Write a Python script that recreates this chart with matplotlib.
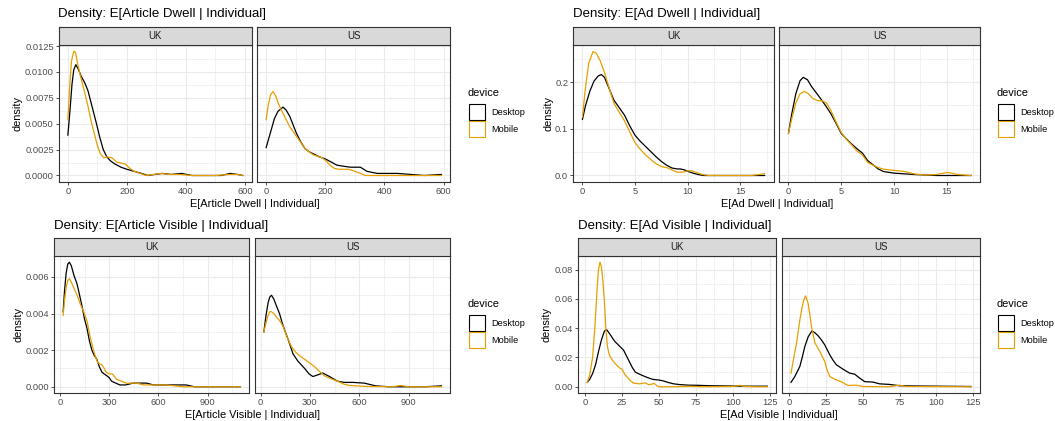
import matplotlib
matplotlib.use('Agg')
import matplotlib.pyplot as plt
from matplotlib.patches import Rectangle

plt.rcParams['font.family'] = ['Liberation Sans', 'DejaVu Sans']

W, H = 1055, 421
DESKTOP = '#000000'
MOBILE = '#E69F00'
GRID = '#EBEBEB'
BORDER = '#333333'
TICKTXT = '#4D4D4D'
STRIP = '#D9D9D9'

# density curves, (x, density) points per device and country
art_dwell_uk_desktop = [(0, 0.0039), (7, 0.0062), (14, 0.0088), (20, 0.0102), (27, 0.0107), (35, 0.0103),
                        (45, 0.0096), (58, 0.0089), (68, 0.0082), (78, 0.0071), (88, 0.0060), (97, 0.0050),
                        (108, 0.0037), (120, 0.0025), (132, 0.0018), (145, 0.0014), (160, 0.0011),
                        (180, 0.0008), (200, 0.0006), (225, 0.0004), (250, 0.0002), (270, 0.0000),
                        (295, 0.0001), (320, 0.0002), (350, 0.0001), (385, 0.0002), (420, 0.0000),
                        (480, 0.0000), (520, 0.0000), (550, 0.0002), (575, 0.0001), (593, 0.0000)]
art_dwell_uk_mobile = [(0, 0.0054), (6, 0.0085), (12, 0.0110), (20, 0.0120), (26, 0.0119), (33, 0.0108),
                       (41, 0.0098), (50, 0.0088), (58, 0.0079), (69, 0.0066), (80, 0.0051), (90, 0.0040),
                       (100, 0.0029), (110, 0.0021), (122, 0.0017), (135, 0.0018), (150, 0.0017),
                       (165, 0.0013), (180, 0.0012), (195, 0.0011), (210, 0.0007), (225, 0.0004),
                       (245, 0.0002), (265, 0.0000), (290, 0.0001), (315, 0.0002), (345, 0.0001),
                       (380, 0.0001), (420, 0.0000), (500, 0.0000), (550, 0.0001), (575, 0.0001), (593, 0.0000)]
art_dwell_us_desktop = [(0, 0.0027), (10, 0.0037), (20, 0.0047), (28, 0.0055), (40, 0.0062), (57, 0.0066),
                        (68, 0.0063), (80, 0.0057), (91, 0.0049), (102, 0.0041), (116, 0.0033), (131, 0.0026),
                        (145, 0.0023), (159, 0.0021), (180, 0.0018), (200, 0.0016), (220, 0.0013),
                        (239, 0.0010), (260, 0.0009), (285, 0.0008), (319, 0.0008), (341, 0.0004),
                        (376, 0.0002), (444, 0.0002), (490, 0.0001), (535, 0.0000), (593, 0.0001)]
art_dwell_us_mobile = [(0, 0.0054), (7, 0.0068), (15, 0.0078), (23, 0.0081), (32, 0.0077), (42, 0.0069),
                       (57, 0.0060), (80, 0.0047), (102, 0.0038), (117, 0.0032), (131, 0.0026),
                       (159, 0.0020), (190, 0.0017), (203, 0.0014), (216, 0.0010), (230, 0.0007),
                       (245, 0.0006), (279, 0.0006), (300, 0.0004), (319, 0.0002), (336, 0.0000),
                       (400, 0.0000), (500, 0.0000), (593, 0.0000)]

ad_dwell_uk_desktop = [(0, 0.120), (0.3, 0.150), (0.7, 0.180), (1.1, 0.202), (1.5, 0.213), (1.8, 0.216),
                       (2.1, 0.210), (2.5, 0.188), (3.0, 0.161), (3.5, 0.145), (4.0, 0.129), (4.5, 0.106),
                       (5.0, 0.086), (5.5, 0.073), (6.0, 0.062), (6.5, 0.051), (7.0, 0.040), (7.5, 0.030),
                       (8.0, 0.022), (8.5, 0.016), (9.0, 0.014), (9.3, 0.014), (9.7, 0.012), (10.0, 0.009),
                       (10.5, 0.005), (11.0, 0.002), (11.5, 0.000), (14.0, 0.000), (17.3, 0.000)]
ad_dwell_uk_mobile = [(0, 0.125), (0.3, 0.190), (0.6, 0.240), (1.0, 0.265), (1.3, 0.262), (1.7, 0.245),
                      (2.1, 0.220), (2.5, 0.190), (3.0, 0.154), (3.5, 0.135), (4.0, 0.117), (4.5, 0.093),
                      (5.0, 0.070), (5.5, 0.056), (6.0, 0.044), (6.5, 0.034), (7.0, 0.025), (7.5, 0.019),
                      (8.0, 0.017), (8.5, 0.012), (9.0, 0.007), (9.5, 0.007), (10.0, 0.010), (10.4, 0.010),
                      (10.9, 0.006), (11.4, 0.002), (12.0, 0.000), (16.0, 0.000), (16.8, 0.002), (17.3, 0.004)]
ad_dwell_us_desktop = [(0, 0.090), (0.3, 0.130), (0.7, 0.175), (1.1, 0.203), (1.4, 0.210), (1.8, 0.205),
                       (2.2, 0.190), (2.7, 0.175), (3.0, 0.166), (3.5, 0.150), (4.0, 0.133), (4.5, 0.112),
                       (5.0, 0.090), (5.5, 0.078), (6.0, 0.067), (6.5, 0.057), (7.0, 0.048), (7.5, 0.032),
                       (8.0, 0.023), (8.5, 0.014), (9.0, 0.0085), (10.0, 0.005), (11.0, 0.0035),
                       (12.0, 0.002), (13.0, 0.001), (14.0, 0.000), (17.3, 0.000)]
ad_dwell_us_mobile = [(0, 0.090), (0.3, 0.120), (0.7, 0.155), (1.1, 0.175), (1.5, 0.180), (1.9, 0.175),
                      (2.3, 0.165), (2.8, 0.160), (3.2, 0.160), (3.6, 0.155), (4.0, 0.140), (4.5, 0.115),
                      (5.0, 0.092), (5.5, 0.077), (6.0, 0.065), (6.5, 0.052), (7.0, 0.044), (7.5, 0.028),
                      (8.0, 0.022), (8.5, 0.017), (9.0, 0.0135), (10.0, 0.011), (11.0, 0.0085),
                      (12.0, 0.003), (13.0, 0.001), (14.0, 0.002), (15.0, 0.0064), (15.5, 0.005),
                      (16.0, 0.002), (17.3, 0.000)]

art_vis_uk_desktop = [(20, 0.0041), (28, 0.0052), (38, 0.0062), (48, 0.0067), (58, 0.0068), (70, 0.0066),
                      (85, 0.0061), (105, 0.0056), (120, 0.0050), (135, 0.0044), (150, 0.0037),
                      (165, 0.0032), (180, 0.0025), (195, 0.0020), (210, 0.0017), (225, 0.0015),
                      (240, 0.0011), (256, 0.0008), (270, 0.0007), (286, 0.0006), (300, 0.0005),
                      (316, 0.0003), (340, 0.0002), (366, 0.0001), (400, 0.0001), (447, 0.0002),
                      (490, 0.0002), (527, 0.0002), (570, 0.0001), (608, 0.0001), (648, 0.0001),
                      (700, 0.0001), (769, 0.0001), (820, 0.0000), (1100, 0.0000)]
art_vis_uk_mobile = [(20, 0.0039), (28, 0.0047), (38, 0.0054), (48, 0.0058), (58, 0.0059), (70, 0.0057),
                     (85, 0.0054), (105, 0.0050), (125, 0.0045), (145, 0.0041), (165, 0.0036),
                     (185, 0.0027), (205, 0.0020), (218, 0.0016), (232, 0.0013), (256, 0.0012),
                     (270, 0.0010), (282, 0.0008), (300, 0.0007), (320, 0.0007), (346, 0.0004),
                     (375, 0.0003), (406, 0.0002), (440, 0.0002), (467, 0.0002), (510, 0.0001),
                     (548, 0.0001), (648, 0.0001), (750, 0.0000), (900, 0.0000), (1100, 0.0000)]
art_vis_us_desktop = [(20, 0.0030), (33, 0.0039), (46, 0.0046), (56, 0.0049), (66, 0.0050), (80, 0.0048),
                      (97, 0.0044), (115, 0.0040), (131, 0.0035), (150, 0.0030), (167, 0.0026),
                      (197, 0.0018), (227, 0.0014), (268, 0.0010), (295, 0.0007), (318, 0.00056),
                      (348, 0.00065), (378, 0.00075), (419, 0.00056), (469, 0.0003), (509, 0.00024),
                      (559, 0.00024), (630, 0.0002), (700, 0.00005), (780, 0.0000), (1000, 0.0000),
                      (1100, 0.00005)]
art_vis_us_mobile = [(20, 0.0030), (33, 0.0035), (46, 0.0039), (56, 0.0041), (66, 0.0041), (80, 0.0040),
                     (97, 0.0038), (117, 0.0036), (137, 0.0033), (162, 0.0027), (187, 0.0022),
                     (212, 0.0019), (237, 0.0017), (268, 0.0015), (298, 0.0013), (328, 0.0011),
                     (358, 0.00084), (389, 0.0006), (419, 0.00047), (469, 0.0003), (505, 0.00015),
                     (539, 0.00007), (640, 0.00002), (800, 0.0000), (851, 0.00007), (901, 0.0000),
                     (1100, 0.0000)]

ad_vis_uk_desktop = [(1.4, 0.003), (3, 0.005), (5, 0.009), (7, 0.015), (9, 0.024), (11, 0.032), (13, 0.038),
                     (14.5, 0.039), (16, 0.037), (18, 0.034), (20, 0.031), (22, 0.029), (24, 0.027),
                     (26, 0.025), (28, 0.021), (30, 0.017), (32, 0.013), (34, 0.010), (37, 0.0085),
                     (40, 0.0072), (43, 0.006), (46, 0.005), (50, 0.0046), (53, 0.004), (56, 0.003),
                     (60, 0.002), (64, 0.0015), (70, 0.0011), (76, 0.001), (85, 0.0007), (100, 0.0005),
                     (110, 0.0004), (123.5, 0.0004)]
ad_vis_uk_mobile = [(1.4, 0.003), (3, 0.008), (5, 0.020), (6.5, 0.040), (8, 0.066), (9, 0.080), (10, 0.085),
                    (11, 0.082), (12, 0.072), (13, 0.058), (14, 0.040), (15, 0.028), (16, 0.023),
                    (16.8, 0.0207), (18.5, 0.018), (20.2, 0.016), (22, 0.014), (23.6, 0.0127), (25, 0.012),
                    (27, 0.0082), (30, 0.0048), (32.7, 0.0025), (35, 0.0022), (37, 0.002), (40.7, 0.0027),
                    (43, 0.0014), (45, 0.0018), (46.8, 0.0023), (48.5, 0.0008), (50, 0.0), (60, 0.0),
                    (70, 0.0003), (80, 0.0), (100, 0.0002), (105, 0.001), (108, 0.0002), (115, 0.0),
                    (123.5, 0.0)]
ad_vis_us_desktop = [(1.4, 0.003), (4, 0.007), (7.4, 0.0139), (9, 0.020), (10.8, 0.0275), (13, 0.034),
                     (15.5, 0.038), (17.5, 0.037), (19.8, 0.0348), (22, 0.032), (24.3, 0.0286),
                     (27.7, 0.0218), (30, 0.018), (32.2, 0.015), (36.7, 0.012), (41.2, 0.0093),
                     (44.6, 0.0086), (48, 0.0059), (51.4, 0.0035), (57, 0.0032), (61.5, 0.002),
                     (68.2, 0.0016), (75, 0.0007), (90.8, 0.0005), (123.5, 0.0002)]
ad_vis_us_mobile = [(1.4, 0.0093), (3.5, 0.021), (5.2, 0.030), (7, 0.043), (8.6, 0.0525), (10, 0.059),
                    (11.3, 0.062), (13, 0.057), (14.2, 0.049), (15.3, 0.041), (17.6, 0.030), (21, 0.024),
                    (24.3, 0.0173), (26, 0.011), (27.7, 0.007), (31, 0.0052), (35.6, 0.0034), (40, 0.0009),
                    (45.7, 0.0011), (50, 0.0002), (68, 0.0), (75, 0.0011), (79.5, 0.0002), (123.5, 0.0)]


def px_box(l, t, r, b):
    return [l / W, 1 - b / H, (r - l) / W, (b - t) / H]


def fig_xy(x, y):
    return x / W, 1 - y / H


def minor_between(major, lo, hi):
    step = major[1] - major[0]
    out = []
    v = major[0] - step / 2
    while v < hi:
        if v > lo:
            out.append(v)
        v += step
    return out


def draw_panel(fig, rect, label, desktop, mobile, xlim, ylim, xticks, yticks, ylabels):
    l, t, r, b = rect
    ax = fig.add_axes(px_box(l, t, r, b))
    ax.set_xlim(*xlim)
    ax.set_ylim(*ylim)
    ax.set_xticks(xticks)
    ax.set_xticklabels([str(v) for v in xticks])
    ax.set_xticks(minor_between(xticks, *xlim), minor=True)
    ax.set_yticks(yticks)
    ax.set_yticks(minor_between(yticks, *ylim), minor=True)
    if ylabels is None:
        ax.tick_params(axis='y', which='both', left=False, labelleft=False)
    else:
        ax.set_yticklabels(ylabels)
    ax.grid(which='major', color=GRID, lw=0.85)
    ax.grid(which='minor', color=GRID, lw=0.5)
    ax.set_axisbelow(True)
    ax.tick_params(which='major', length=2.2, width=0.6, color=BORDER, labelsize=6.7,
                   labelcolor=TICKTXT, pad=1.5)
    ax.tick_params(which='minor', length=0)
    for sp in ax.spines.values():
        sp.set_color(BORDER)
        sp.set_linewidth(0.8)
    ax.plot([p[0] for p in desktop], [p[1] for p in desktop], color=DESKTOP, lw=0.9)
    ax.plot([p[0] for p in mobile], [p[1] for p in mobile], color=MOBILE, lw=0.9)

    strip = fig.add_axes(px_box(l, t - 18, r, t))
    strip.set_facecolor(STRIP)
    strip.set_xticks([])
    strip.set_yticks([])
    for sp in strip.spines.values():
        sp.set_color(BORDER)
        sp.set_linewidth(0.8)
    strip.text(0.5, 0.5, label, ha='center', va='center', fontsize=6.9, color='#1A1A1A',
               transform=strip.transAxes)
    return ax


def draw_legend(fig, x, y):
    fig.text(*fig_xy(x, y), 'device', fontsize=7.9, ha='left', va='center')
    for i, (name, col) in enumerate([('Desktop', DESKTOP), ('Mobile', MOBILE)]):
        top = y + 11 + i * 17.3
        fig.add_artist(Rectangle(fig_xy(x + 1.5, top + 16), 16 / W, 16 / H, transform=fig.transFigure,
                                 facecolor='white', edgecolor=col, lw=0.8))
        fig.text(*fig_xy(x + 24, top + 8.5), name, fontsize=6.6, ha='left', va='center')


def draw_block(fig, title, xlabel, left, top, bottom, lefts, rights, curves, xlim, ylim,
               xticks, yticks, ylabels, legend_x):
    fig.text(*fig_xy(left[0], top - 27.5), title, fontsize=9.5, ha='left', va='baseline')
    for k, lab in enumerate(['UK', 'US']):
        draw_panel(fig, (lefts[k], top, rights[k], bottom), lab, curves[k][0], curves[k][1],
                   xlim, ylim, xticks, yticks, ylabels if k == 0 else None)
    fig.text(*fig_xy((lefts[0] + rights[1]) / 2, bottom + 22), xlabel, fontsize=7.9,
             ha='center', va='center')
    fig.text(*fig_xy(left[1], (top + bottom) / 2), 'density', fontsize=7.9, rotation=90,
             ha='center', va='center')
    draw_legend(fig, legend_x, top + 48)


fig = plt.figure(figsize=(W / 100, H / 100), dpi=100)

draw_block(fig, 'Density: E[Article Dwell | Individual]', 'E[Article Dwell | Individual]',
           (58, 17.5), 45, 181.7, (59, 257.3), (251.7, 450.3),
           [(art_dwell_uk_desktop, art_dwell_uk_mobile), (art_dwell_us_desktop, art_dwell_us_mobile)],
           (-30, 623), (-0.0006, 0.0126), [0, 200, 400, 600],
           [0, 0.0025, 0.005, 0.0075, 0.01, 0.0125],
           ['0.0000', '0.0025', '0.0050', '0.0075', '0.0100', '0.0125'], 467.3)

draw_block(fig, 'Density: E[Ad Dwell | Individual]', 'E[Ad Dwell | Individual]',
           (573.3, 548), 45, 181.7, (573.3, 779.3), (773.7, 980.3),
           [(ad_dwell_uk_desktop, ad_dwell_uk_mobile), (ad_dwell_us_desktop, ad_dwell_us_mobile)],
           (-0.865, 18.165), (-0.0133, 0.2793), [0, 5, 10, 15],
           [0, 0.1, 0.2], ['0.0', '0.1', '0.2'], 996.7)

draw_block(fig, 'Density: E[Article Visible | Individual]', 'E[Article Visible | Individual]',
           (54.3, 18), 256, 393, (54.3, 255), (249.3, 450.3),
           [(art_vis_uk_desktop, art_vis_uk_mobile), (art_vis_us_desktop, art_vis_us_mobile)],
           (-34, 1154), (-0.00034, 0.00714), [0, 300, 600, 900],
           [0, 0.002, 0.004, 0.006], ['0.000', '0.002', '0.004', '0.006'], 467.3)

draw_block(fig, 'Density: E[Ad Visible | Individual]', 'E[Ad Visible | Individual]',
           (578.3, 546), 256, 393, (578.3, 782), (776.3, 980),
           [(ad_vis_uk_desktop, ad_vis_uk_mobile), (ad_vis_us_desktop, ad_vis_us_mobile)],
           (-4.7, 129.6), (-0.00425, 0.08925), [0, 25, 50, 75, 100, 125],
           [0, 0.02, 0.04, 0.06, 0.08], ['0.00', '0.02', '0.04', '0.06', '0.08'], 996.7)

fig.savefig('out.png', dpi=100, facecolor='white')
